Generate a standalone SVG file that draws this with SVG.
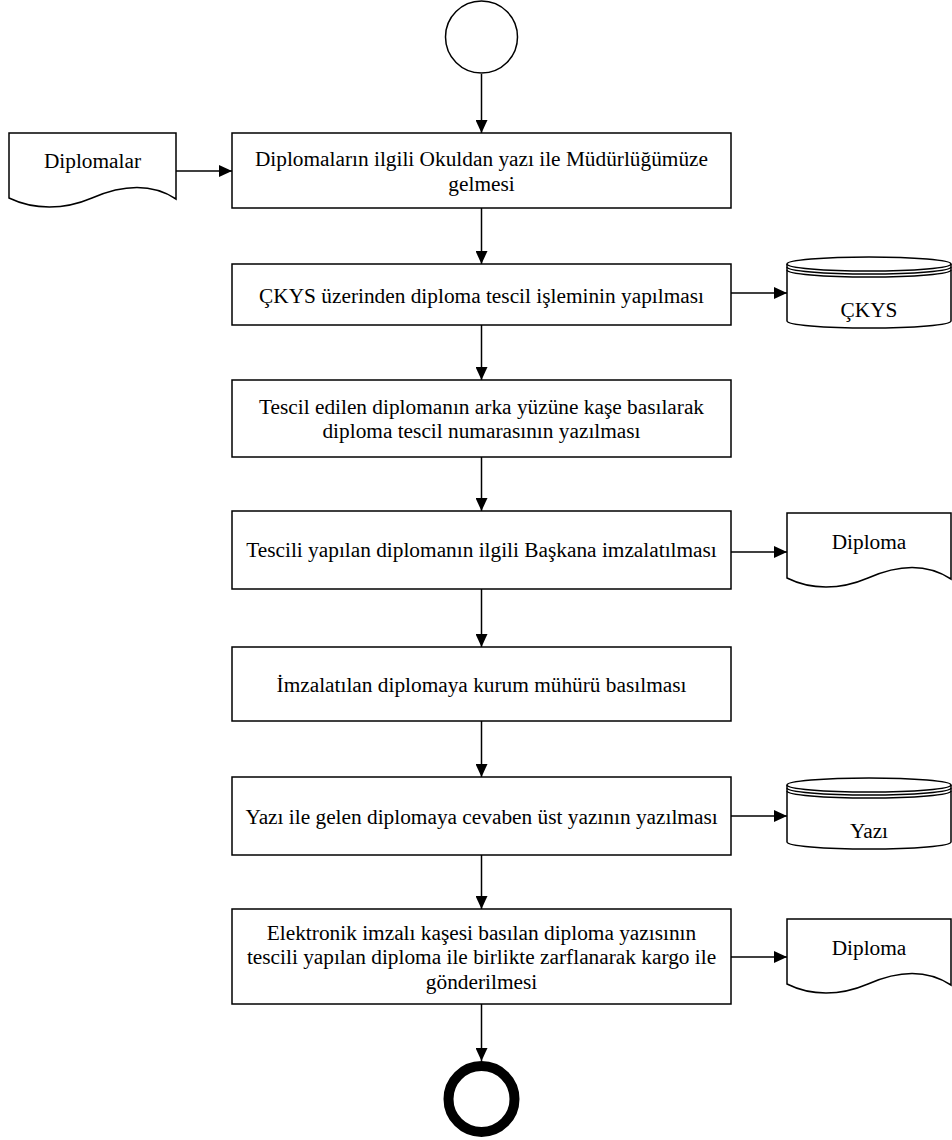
<svg xmlns="http://www.w3.org/2000/svg" width="952" height="1140" viewBox="0 0 952 1140">
<style>
.box{fill:#fff;stroke:#000;stroke-width:1.5}
.shape{fill:#fff;stroke:#000;stroke-width:1.5}
.line{fill:none;stroke:#000;stroke-width:1.5}
.edge{fill:none;stroke:#000;stroke-width:1.5;marker-end:url(#arr)}
text{font-family:"Liberation Serif","Times New Roman",serif;font-size:21.33px;fill:#000;text-anchor:middle}
</style>
<defs>
<marker id="arr" viewBox="0 0 13 12" refX="13" refY="6" markerWidth="13" markerHeight="12" markerUnits="userSpaceOnUse" orient="auto">
<path d="M0,0 L13,6 L0,12 Z" fill="#000"/>
</marker>
</defs>
<rect width="952" height="1140" fill="#fff"/>
<g id="connectors">
<line class="edge" x1="481.5" y1="74" x2="481.5" y2="133"/>
<line class="edge" x1="481.5" y1="208" x2="481.5" y2="264"/>
<line class="edge" x1="481.5" y1="325" x2="481.5" y2="380"/>
<line class="edge" x1="481.5" y1="457" x2="481.5" y2="511"/>
<line class="edge" x1="481.5" y1="589" x2="481.5" y2="647"/>
<line class="edge" x1="481.5" y1="721" x2="481.5" y2="777"/>
<line class="edge" x1="481.5" y1="855" x2="481.5" y2="909"/>
<line class="edge" x1="481.5" y1="1004" x2="481.5" y2="1061"/>
<line class="edge" x1="176" y1="171" x2="232" y2="171"/>
<line class="edge" x1="731" y1="293" x2="787" y2="293"/>
<line class="edge" x1="731" y1="552" x2="787" y2="552"/>
<line class="edge" x1="731" y1="816" x2="787" y2="816"/>
<line class="edge" x1="731" y1="957" x2="787" y2="957"/>
</g>
<g id="start"><circle class="shape" cx="481.5" cy="37" r="36"/></g>
<g id="doc-diplomalar">
<path class="shape" d="M9,133 H176 V199 C150,182 120,186 92,198 C64,210 34,210 9,198 Z"/>
<text x="92.5" y="168">Diplomalar</text>
</g>
<g id="step1">
<rect class="box" x="232" y="133" width="499" height="75"/>
<text x="481.5" y="166">Diplomaların ilgili Okuldan yazı ile Müdürlüğümüze</text>
<text x="481.5" y="190.5">gelmesi</text>
</g>
<g id="step2">
<rect class="box" x="232" y="264" width="499" height="61"/>
<text x="481.5" y="302.5">ÇKYS üzerinden diploma tescil işleminin yapılması</text>
</g>
<g id="db-ckys">
<path class="shape" d="M787,264 V321 A82,7 0 0 0 951,321 V264 A82,7 0 0 0 787,264 Z"/>
<path class="line" d="M787,264 A82,7 0 0 0 951,264"/>
<path class="line" d="M787,267 A82,7 0 0 0 951,267"/>
<path class="line" d="M787,270 A82,7 0 0 0 951,270"/>
<text x="869" y="316.5">ÇKYS</text>
</g>
<g id="step3">
<rect class="box" x="232" y="380" width="499" height="77"/>
<text x="481.5" y="413.5">Tescil edilen diplomanın arka yüzüne kaşe basılarak</text>
<text x="481.5" y="438">diploma tescil numarasının yazılması</text>
</g>
<g id="step4">
<rect class="box" x="232" y="511" width="499" height="78"/>
<text x="481.5" y="557">Tescili yapılan diplomanın ilgili Başkana imzalatılması</text>
</g>
<g id="doc-diploma1">
<path class="shape" d="M787,513 H951 V579 C925,562 895,566 868,578 C840,590 811,590 787,578 Z"/>
<text x="869" y="549">Diploma</text>
</g>
<g id="step5">
<rect class="box" x="232" y="647" width="499" height="74"/>
<text x="481.5" y="691.5">İmzalatılan diplomaya kurum mühürü basılması</text>
</g>
<g id="step6">
<rect class="box" x="232" y="777" width="499" height="78"/>
<text x="481.5" y="823.5">Yazı ile gelen diplomaya cevaben üst yazının yazılması</text>
</g>
<g id="db-yazi">
<path class="shape" d="M787,785 V842 A82,7 0 0 0 951,842 V785 A82,7 0 0 0 787,785 Z"/>
<path class="line" d="M787,785 A82,7 0 0 0 951,785"/>
<path class="line" d="M787,788 A82,7 0 0 0 951,788"/>
<path class="line" d="M787,791 A82,7 0 0 0 951,791"/>
<text x="869" y="837.5">Yazı</text>
</g>
<g id="step7">
<rect class="box" x="232" y="909" width="499" height="95"/>
<text x="481.5" y="939.5">Elektronik imzalı kaşesi basılan diploma yazısının</text>
<text x="481.5" y="964">tescili yapılan diploma ile birlikte zarflanarak kargo ile</text>
<text x="481.5" y="988.5">gönderilmesi</text>
</g>
<g id="doc-diploma2">
<path class="shape" d="M787,919 H951 V985 C925,968 895,972 868,984 C840,996 811,996 787,984 Z"/>
<text x="869" y="955">Diploma</text>
</g>
<g id="end"><circle cx="481.5" cy="1099" r="33" fill="#fff" stroke="#000" stroke-width="10"/></g>
</svg>
